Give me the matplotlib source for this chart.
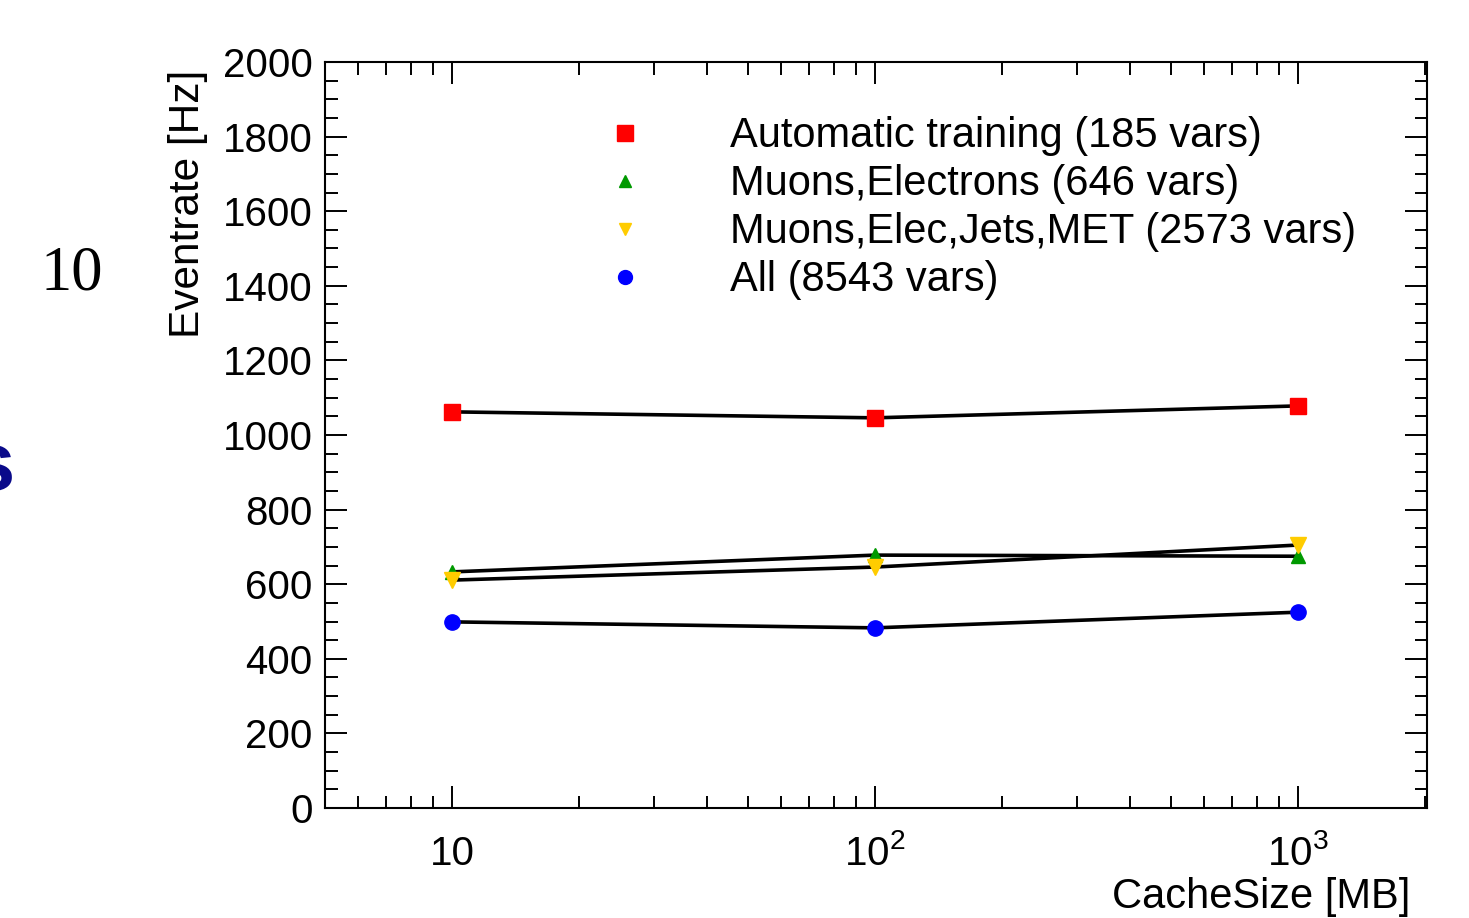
import matplotlib
matplotlib.use("Agg")
import matplotlib.pyplot as plt
from matplotlib.lines import Line2D
from matplotlib.ticker import MultipleLocator, LogLocator, NullFormatter

plt.rcParams['font.family'] = ['Liberation Sans', 'DejaVu Sans']
plt.rcParams['mathtext.fontset'] = 'custom'
plt.rcParams['mathtext.rm'] = 'Liberation Sans'

# data
cache_size = [10, 100, 1000]
auto_training = [1062, 1046, 1078]
muons_electrons = [633, 678, 675]
muons_elec_jets_met = [611, 646, 705]
all_vars = [499, 483, 525]

series_labels = ['Automatic training (185 vars)', 'Muons,Electrons (646 vars)',
                 'Muons,Elec,Jets,MET (2573 vars)', 'All (8543 vars)']
series_values = [auto_training, muons_electrons, muons_elec_jets_met, all_vars]
markers = ['s', '^', 'v', 'o']
colors = ['#ff0000', '#009900', '#ffcc00', '#0000ff']
msizes = [12, 10, 11, 11]

xtick_vals = [10, 100, 1000]
xtick_labels = ['10', r'$\mathregular{10^{2}}$', r'$\mathregular{10^{3}}$']

fig = plt.figure(figsize=(14.69, 9.18), dpi=100)
ax = fig.add_axes([0.2212, 0.1198, 0.7502, 0.8127])

for vals, m, c, ms in zip(series_values, markers, colors, msizes):
    ax.plot(cache_size, vals, '-', color='black', lw=2.6,
            marker=m, ms=ms, mfc=c, mec=c)

ax.set_xscale('log')
ax.set_xlim(5.01, 2018)
ax.set_ylim(0, 2000)

ax.yaxis.set_major_locator(MultipleLocator(200))
ax.yaxis.set_minor_locator(MultipleLocator(50))
ax.set_xticks(xtick_vals, labels=xtick_labels)
ax.xaxis.set_minor_locator(LogLocator(base=10, subs=range(2, 10)))
ax.xaxis.set_minor_formatter(NullFormatter())

ax.tick_params(which='both', direction='in', top=True, right=True, width=1.4)
ax.tick_params(which='major', length=16)
ax.tick_params(which='minor', length=9)
ax.tick_params(axis='y', labelsize=29, pad=9)
ax.tick_params(axis='x', labelsize=29, pad=41)
for t in ax.xaxis.get_major_ticks():
    t.label1.set_verticalalignment('baseline')
for sp in ax.spines.values():
    sp.set_linewidth(1.5)

ax.set_ylabel('Eventrate [Hz]', fontsize=30.5, loc='top')
ax.yaxis.set_label_coords(-0.106, 0.989)
ax.set_xlabel('CacheSize [MB]', fontsize=30, loc='right')
ax.xaxis.set_label_coords(0.9846, -0.093)

handles = [Line2D([], [], ls='none', marker=m, color=c, ms=s)
           for m, c, s in zip(markers, colors, [11, 8, 9, 10])]
ax.legend(handles, series_labels, loc='upper left', bbox_to_anchor=(0.2536, 0.927),
          frameon=False, fontsize=30, handlelength=1.0, handletextpad=2.02,
          labelspacing=0.19, borderpad=0, borderaxespad=0)

# stray fragments of the surrounding slide
fig.text(72 / 1469, 1 - 290 / 918, '10', fontsize=45, family='Liberation Serif',
         ha='center', va='baseline')
fig.text(14 / 1469, 1 - 490 / 918, 's', fontsize=60, fontweight='bold',
         color='#0a0a8a', ha='right', va='baseline')

fig.savefig('out.png', dpi=100)
